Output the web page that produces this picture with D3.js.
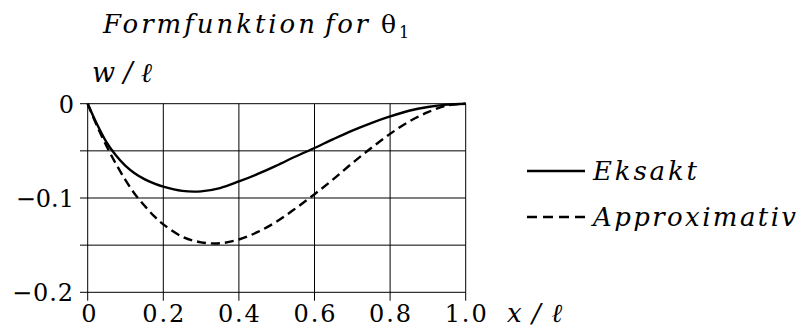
<!DOCTYPE html>
<html>
<head>
<meta charset="utf-8">
<script src="https://cdn.jsdelivr.net/npm/d3@7"></script>
<style>
  html, body { margin: 0; padding: 0; background: #fff; }
  svg { display: block; }
</style>
</head>
<body>
<svg id="chart" width="802" height="335"></svg>
<script>
// Shape function for the end rotation θ1 of a beam element, w/ℓ along x/ℓ
const xPos = [0, 0.025, 0.05, 0.075, 0.1, 0.125, 0.15, 0.175, 0.2, 0.25, 0.3, 0.35, 0.4, 0.45, 0.5,
              0.55, 0.6, 0.65, 0.7, 0.75, 0.8, 0.85, 0.9, 0.95, 1.0];
const eksakt = [0, -0.022, -0.041, -0.055, -0.066, -0.074, -0.080, -0.0845, -0.088, -0.0925, -0.093, -0.0895,
                -0.0825, -0.0745, -0.0655, -0.056, -0.047, -0.0375, -0.0285, -0.0205, -0.0135, -0.0075,
                -0.0035, -0.001, 0];
const approksimativ = [0, -0.024, -0.045, -0.064, -0.081, -0.096, -0.108, -0.119, -0.128, -0.141, -0.147,
                       -0.148, -0.144, -0.136, -0.125, -0.111, -0.096, -0.080, -0.063, -0.047, -0.032,
                       -0.019, -0.009, -0.002, 0];
const xTicks = [0, 0.2, 0.4, 0.6, 0.8, 1.0];
const xTickLabels = ["0", "0.2", "0.4", "0.6", "0.8", "1.0"];
const yGrid = [0, -0.05, -0.1, -0.15, -0.2];
const yTicks = [0, -0.1, -0.2];
const yTickLabels = ["0", "\u22120.1", "\u22120.2"];
const seriesNames = ["Eksakt", "Approximativ"];

const SERIF = "DejaVu Serif";

const svg = d3.select("#chart");
const x = d3.scaleLinear().domain([0, 1]).range([87.7, 465.7]);
const y = d3.scaleLinear().domain([0, -0.2]).range([103.7, 292.3]);

// spread the letters of a text element so that it spans the given width
function spread(sel, width) {
  sel.each(function () {
    const el = this;
    const n = el.textContent.length;
    const natural = el.getComputedTextLength();
    if (n > 1 && natural < width) {
      d3.select(el).attr("letter-spacing", ((width - natural) / (n - 1)).toFixed(2));
    }
  });
  return sel;
}

function label(parent, txt, size, italic) {
  return parent.append("text")
    .attr("font-family", SERIF)
    .attr("font-size", size)
    .attr("font-style", italic ? "italic" : "normal")
    .attr("fill", "#000")
    .text(txt);
}

// grid: horizontal lines reach out past the left edge as tick marks
const grid = svg.append("g").attr("stroke", "#000").attr("stroke-width", 1);
grid.selectAll("line.h").data(yGrid).join("line")
  .attr("class", "h")
  .attr("x1", 80).attr("x2", x(1))
  .attr("y1", d => y(d)).attr("y2", d => y(d));
grid.selectAll("line.v").data(xTicks).join("line")
  .attr("class", "v")
  .attr("x1", d => x(d)).attr("x2", d => x(d))
  .attr("y1", y(0)).attr("y2", y(-0.2) + 8.4);

// y tick labels, right-aligned
const yLabW = [14, 56, 61];
const yLab = svg.append("g");
yTicks.forEach((v, i) => {
  const t = label(yLab, yTickLabels[i], 24, false).attr("y", y(v) + 9);
  spread(t, yLabW[i]);
  const w = t.node().getComputedTextLength();
  t.attr("x", 74 - Math.max(w, yLabW[i]));
});

// x tick labels, centred under the grid lines
const xLab = svg.append("g");
xTicks.forEach((v, i) => {
  const t = label(xLab, xTickLabels[i], 24, false).attr("y", 322);
  const w = i === 0 ? 13 : 42;
  spread(t, w);
  t.attr("x", x(v) - w / 2);
});

// axis titles
spread(label(svg, "x/\u2113", 26, true).attr("x", 507).attr("y", 322), 55);
spread(label(svg, "w/\u2113", 27, true).attr("x", 92).attr("y", 82), 60);

// title
spread(label(svg, "Formfunktion", 26, true).attr("x", 103).attr("y", 33), 212);
spread(label(svg, "for", 26, true).attr("x", 325).attr("y", 33), 43);
label(svg, "\u03b8", 25, false).attr("x", 381).attr("y", 33);
label(svg, "1", 16, false).attr("x", 399).attr("y", 38);

// curves
const line = d3.line()
  .x((d, i) => x(xPos[i]))
  .y(d => y(d))
  .curve(d3.curveCatmullRom.alpha(0.5));

svg.append("path").datum(eksakt)
  .attr("d", line)
  .attr("fill", "none").attr("stroke", "#000").attr("stroke-width", 2.4);

svg.append("path").datum(approksimativ)
  .attr("d", line)
  .attr("fill", "none").attr("stroke", "#000").attr("stroke-width", 2.4)
  .attr("stroke-dasharray", "9,5");

// legend
const legend = svg.append("g");
const legY = [171, 217];
const legW = [104, 203];
seriesNames.forEach((name, i) => {
  legend.append("line")
    .attr("x1", 527).attr("x2", 585)
    .attr("y1", legY[i]).attr("y2", legY[i])
    .attr("stroke", "#000").attr("stroke-width", 2.4)
    .attr("stroke-dasharray", i === 0 ? null : "10,6");
  spread(label(legend, name, 26, true).attr("x", 593).attr("y", legY[i] + 9), legW[i]);
});
</script>
</body>
</html>
